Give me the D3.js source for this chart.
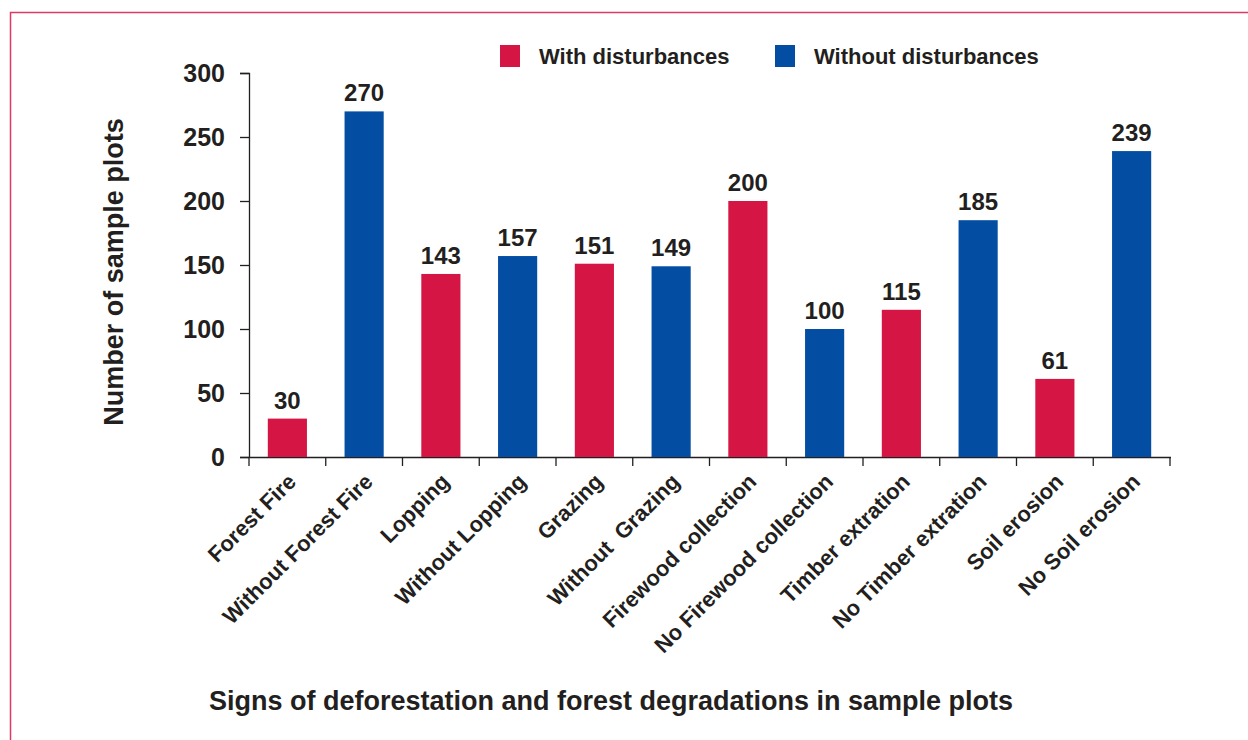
<!DOCTYPE html>
<html>
<head>
<meta charset="utf-8">
<script src="https://cdn.jsdelivr.net/npm/d3@7"></script>
<style>
  body { margin: 0; background: #fff; }
  text { font-family: "Liberation Sans", Arial, sans-serif; font-weight: bold; fill: #231f20; }
</style>
</head>
<body>
<script>
var categories = ['Forest Fire', 'Without Forest Fire', 'Lopping', 'Without Lopping', 'Grazing',
  'Without  Grazing', 'Firewood collection', 'No Firewood collection', 'Timber extration',
  'No Timber extration', 'Soil erosion', 'No Soil erosion'];
var values = [30, 270, 143, 157, 151, 149, 200, 100, 115, 185, 61, 239];
var groups = ['with', 'without', 'with', 'without', 'with', 'without', 'with', 'without', 'with', 'without', 'with', 'without'];
var yTicks = [0, 50, 100, 150, 200, 250, 300];
var legendLabels = ['With disturbances', 'Without disturbances'];

var svgWidth = 1248;
var svgHeight = 740;
var red = '#d51543';
var blue = '#034ea2';

var svg = d3.select('body').append('svg')
  .attr('width', svgWidth)
  .attr('height', svgHeight)

// pink frame (only top and left visible)
svg.append('path')
  .attr('d', 'M10.5,740 L10.5,12.5 L1248,12.5')
  .attr('fill', 'none')
  .attr('stroke', '#e03a62')
  .attr('stroke-width', 1.5)

var x = d3.scaleBand().domain(categories).range([249, 1170]).paddingInner(0.49).paddingOuter(0.245);
var y = d3.scaleLinear().domain([0, 300]).range([457, 73]);
var color = d3.scaleOrdinal().domain(['with', 'without']).range([red, blue]);

// y axis
var yAxis = svg.append('g')
  .attr('transform', 'translate(249,0)')
  .call(d3.axisLeft(y).tickValues(yTicks).tickSize(9).tickPadding(15));
yAxis.select('.domain').attr('stroke', '#231f20').attr('stroke-width', 1.3).attr('d', 'M-9,73.5H0.5V457.5');
yAxis.selectAll('.tick line').attr('stroke', '#231f20').attr('stroke-width', 1.3);
yAxis.selectAll('.tick text').style('font-size', '25px').style('font-family', '"Liberation Sans", Arial, sans-serif').style('font-weight', 'bold').attr('fill', '#231f20');

// x axis: ticks at band boundaries
var step = x.step();
var bounds = d3.range(categories.length + 1).map(function(i){ return 249 + i * step; });
svg.append('line')
  .attr('x1', 240).attr('x2', 1171)
  .attr('y1', 457.5).attr('y2', 457.5)
  .attr('stroke', '#231f20').attr('stroke-width', 1.3)
svg.selectAll('.xtick').data(bounds).enter().append('line')
  .attr('class', 'xtick')
  .attr('x1', function(d){ return d; }).attr('x2', function(d){ return d; })
  .attr('y1', 457).attr('y2', 466)
  .attr('stroke', '#231f20').attr('stroke-width', 1.3)

// bars
svg.selectAll('.bar').data(values).enter().append('rect')
  .attr('class', 'bar')
  .attr('x', function(d, i){ return x(categories[i]); })
  .attr('y', function(d){ return y(d); })
  .attr('width', x.bandwidth())
  .attr('height', function(d){ return y(0) - y(d); })
  .attr('fill', function(d, i){ return color(groups[i]); })

// value labels
svg.selectAll('.val').data(values).enter().append('text')
  .attr('class', 'val')
  .attr('x', function(d, i){ return x(categories[i]) + x.bandwidth() / 2; })
  .attr('y', function(d){ return y(d) - 10; })
  .attr('text-anchor', 'middle')
  .style('font-size', '24px')
  .text(function(d){ return d; })

// category labels
svg.selectAll('.cat').data(categories).enter().append('text')
  .attr('class', 'cat')
  .attr('transform', function(d){ return 'translate(' + (x(d) + x.bandwidth() / 2 + 10) + ',483) rotate(-45)'; })
  .attr('text-anchor', 'end')
  .style('font-size', '22px')
  .style('white-space', 'pre')
  .text(function(d){ return d; })

// legend
var legend = svg.selectAll('.leg').data(legendLabels).enter().append('g')
  .attr('class', 'leg')
  .attr('transform', function(d, i){ return 'translate(' + (500 + i * 275) + ',45)'; })
legend.append('rect')
  .attr('width', 20).attr('height', 22)
  .attr('fill', function(d, i){ return i === 0 ? red : blue; })
legend.append('text')
  .attr('x', 39).attr('y', 19)
  .style('font-size', '22px')
  .text(function(d){ return d; })

// axis titles
svg.append('text')
  .attr('transform', 'translate(123,272) rotate(-90)')
  .attr('text-anchor', 'middle')
  .style('font-size', '27px')
  .text('Number of sample plots')

svg.append('text')
  .attr('x', 611).attr('y', 710)
  .attr('text-anchor', 'middle')
  .style('font-size', '27px')
  .text('Signs of deforestation and forest degradations in sample plots')
</script>
</body>
</html>
